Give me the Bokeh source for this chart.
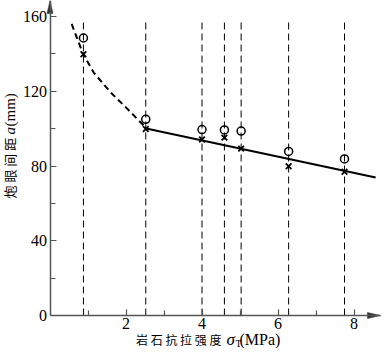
import math
from bokeh.plotting import figure
from bokeh.models import Range1d, FixedTicker, Label
from bokeh.embed import file_html
from bokeh.resources import INLINE

# ---- data ----
test_x = [0.88, 2.52, 4.0, 4.59, 5.03, 6.28, 7.75]          # rock tensile strength (MPa)
a_circle = [148.5, 105.0, 99.5, 99.3, 98.7, 87.8, 83.8]      # hole spacing, series "o"
a_cross = [139.8, 99.8, 94.2, 95.2, 89.3, 79.9, 76.9]        # hole spacing, series "x"
fit_x = [2.5, 8.57]                                          # straight fit line
fit_y = [100.2, 73.8]
curve_x = [0.57, 0.87, 1.15, 1.59, 2.03, 2.5]                # dashed fitted curve
curve_y = [156.0, 140.0, 130.0, 119.5, 110.7, 101.0]
guide_top = 158
x_ticks = [2, 4, 6, 8]
x_minor = [1, 3, 5, 7]
y_ticks = [0, 40, 80, 120, 160]
y_minor = [20, 60, 100, 140]

# ---- geometry (frame covers the whole canvas) ----
W, H = 381, 348
OX = 49.5                 # canvas px of x = 0
PX = 38.0                 # px per MPa
X_END = (380 - OX) / PX   # arrow tip of x axis
OY = 315                  # canvas px of y = 0
PY = (OY - 16) / 160.0    # px per mm
Y_END = OY / PY           # arrow tip of y axis (canvas top)

def dx(fx):
    return (fx - OX) / PX

def dy(fy):
    return (OY - fy) / PY

p = figure(width=W, height=H, output_backend="svg", toolbar_location=None,
           x_range=Range1d(dx(0), dx(W)), y_range=Range1d(dy(H), dy(0)),
           min_border_left=0, min_border_right=0, min_border_top=0, min_border_bottom=0)
p.outline_line_color = None
p.grid.visible = False
p.background_fill_color = "white"
p.border_fill_color = "white"

AX = "#555555"
for ax, ticks, minor, end in ((p.xaxis, x_ticks, x_minor, X_END), (p.yaxis, y_ticks, y_minor, Y_END)):
    ax.ticker = FixedTicker(ticks=ticks, minor_ticks=minor)
    ax.fixed_location = 0
    ax.bounds = (0, end)
    ax.axis_line_color = AX
    ax.axis_line_width = 1.5
    ax.major_tick_line_color = AX
    ax.minor_tick_line_color = AX
    ax.major_tick_line_width = 1.2
    ax.minor_tick_line_width = 1.2
    ax.major_tick_in = 6
    ax.major_tick_out = 0
    ax.minor_tick_in = 5
    ax.minor_tick_out = 0
    ax.major_label_text_font = "Liberation Serif"
    ax.major_label_text_font_size = "16px"
    ax.major_label_text_color = "black"
p.xaxis.major_label_standoff = 2
p.yaxis.major_label_standoff = 3

# vertical guide lines at each test
p.segment(x0=test_x, y0=[0] * len(test_x), x1=test_x, y1=[guide_top] * len(test_x),
          line_color="black", line_width=1, line_dash="7 4")

# fitted curve (dashed) and line (solid)
p.line(curve_x, curve_y, line_color="black", line_width=2, line_dash="6 4")
p.line(fit_x, fit_y, line_color="black", line_width=2)

# markers
p.scatter(test_x, a_circle, marker="circle", size=8, fill_color=None,
          line_color="black", line_width=1.5)
p.scatter(test_x, a_cross, marker="x", size=8, line_color="black", line_width=1.8)

# axis arrowheads (narrow, filled)
hl, hw = 13, 3.0
p.patch([0 - hw / PX, 0, 0 + hw / PX], [Y_END - hl / PY, Y_END, Y_END - hl / PY],
        fill_color="#333333", line_color="#333333", line_width=0.5)
p.patch([X_END - hl / PX, X_END, X_END - hl / PX], [0 - hw / PY, 0, 0 + hw / PY],
        fill_color="#333333", line_color="#333333", line_width=0.5)

cjk = "Noto Sans CJK SC"
serif = "Liberation Serif"

def lab(fx, fy, text, font, size, align="left", style="normal", angle=0.0):
    p.add_layout(Label(x=dx(fx), y=dy(fy), text=text, text_font=font, text_font_size=size,
                       text_font_style=style, text_align=align, text_baseline="middle",
                       text_color="black", angle=angle))

# x title: 岩石抗拉强度σT(MPa)
lab(221, 339, "岩 石 抗 拉 强 度", cjk, "12px", align="right")
lab(226, 339, "σ", serif, "17px", style="italic")
lab(235, 343, "T", serif, "10px")
lab(239, 339, "(MPa)", serif, "16px")

# y title: 炮眼间距a(mm), rotated (reads bottom to top)
lab(9, 198, "炮 眼 间 距", cjk, "13px", angle=math.pi / 2)
lab(9, 134, "a", serif, "15px", style="italic", angle=math.pi / 2)
lab(9, 126, "(mm)", serif, "15px", angle=math.pi / 2)

open("out.html", "w").write(file_html(p, INLINE))
